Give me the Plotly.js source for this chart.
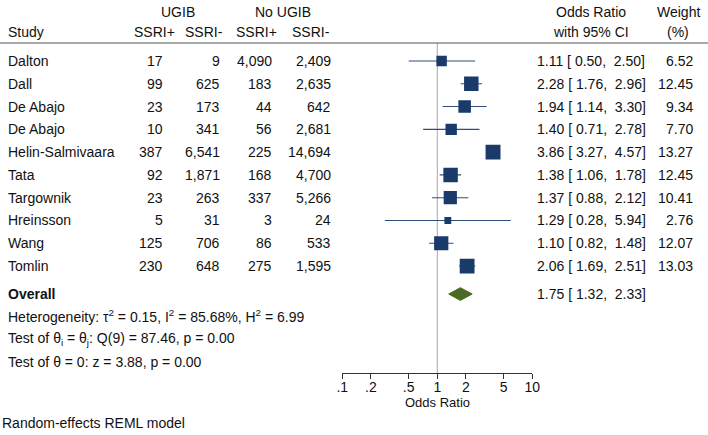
<!DOCTYPE html>
<html>
<head>
<meta charset="utf-8">
<script src="https://cdn.plot.ly/plotly-3.0.1.min.js"></script>
<style>html,body{margin:0;padding:0;background:#fff;}#chart{width:708px;height:435px;}</style>
</head>
<body>
<div id="chart"></div>
<script>
// ---- data ----
const studies = ["Dalton","Dall","De Abajo","De Abajo","Helin-Salmivaara","Tata","Targownik","Hreinsson","Wang","Tomlin"];
const ugibSsriPos = [17, 99, 23, 10, 387, 92, 23, 5, 125, 230];
const ugibSsriNeg = [9, 625, 173, 341, 6541, 1871, 263, 31, 706, 648];
const noUgibSsriPos = [4090, 183, 44, 56, 225, 168, 337, 3, 86, 275];
const noUgibSsriNeg = [2409, 2635, 642, 2681, 14694, 4700, 5266, 24, 533, 1595];
const oddsRatio = [1.11, 2.28, 1.94, 1.40, 3.86, 1.38, 1.37, 1.29, 1.10, 2.06];
const ciLower = [0.50, 1.76, 1.14, 0.71, 3.27, 1.06, 0.88, 0.28, 0.82, 1.69];
const ciUpper = [2.50, 2.96, 3.30, 2.78, 4.57, 1.78, 2.12, 5.94, 1.48, 2.51];
const weightPct = [6.52, 12.45, 9.34, 7.70, 13.27, 12.45, 10.41, 2.76, 12.07, 13.03];
const overallOR = 1.75, overallLower = 1.32, overallUpper = 2.33;
const nullValue = 1;
const tickValues = [0.1, 0.2, 0.5, 1, 2, 5, 10];
const tickLabels = [".1", ".2", ".5", "1", "2", "5", "10"];
const heterogeneityText = "Heterogeneity: τ<sup>2</sup> = 0.15, I<sup>2</sup> = 85.68%, H<sup>2</sup> = 6.99";
const testHomText = "Test of θ<sub>i</sub> = θ<sub>j</sub>: Q(9) = 87.46, p = 0.00";
const testZeroText = "Test of θ = 0: z = 3.88, p = 0.00";
const modelText = "Random-effects REML model";

// ---- layout helpers ----
const W = 708, H = 435;
const px = v => v / W;
const rows = studies.map((s, i) => i);
const overallRow = 10.23, hetRow = 11.18, test1Row = 12.2, test2Row = 13.2;
const headRow1 = -2.15, headRow2 = -1.27, ruleRow = -0.79;
const yTop = -2.678, yBottom = 13.696;

const navy = "#1a3a6a";
const txt = "#111";
const FONT = "Liberation Sans, Arial, sans-serif";
const fs = 14;
const nb = "\u00a0";
const f2 = v => v.toFixed(2);
const padNum = v => (v < 10 ? nb : "") + f2(v);
const fmtCI = (e, l, u) => f2(e) + nb + "[" + padNum(l) + "," + nb + padNum(u) + "]";
const fmtInt = v => v.toLocaleString("en-US");

// ---- traces ----
const ciX = [], ciY = [];
rows.forEach(i => { ciX.push(ciLower[i], ciUpper[i], null); ciY.push(i, i, null); });

const traces = [
  { x: [nullValue, nullValue], y: [ruleRow, yBottom], mode: "lines", line: { color: "#a8a8a8", width: 1 }, hoverinfo: "skip" },
  { x: ciX, y: ciY, mode: "lines", line: { color: "#2e4e7a", width: 1.1 }, hoverinfo: "skip", connectgaps: false },
  { x: oddsRatio, y: rows, mode: "markers", hoverinfo: "skip",
    marker: { symbol: "square", color: navy, opacity: 1, size: weightPct.map(w => 4.1 * Math.sqrt(w)), line: { width: 0 } } },
  { x: [overallLower, overallOR, overallUpper, overallOR, overallLower],
    y: [overallRow, overallRow - 0.28, overallRow, overallRow + 0.28, overallRow],
    mode: "lines", fill: "toself", fillcolor: "#4b6b22", line: { color: "#4b6b22", width: 1 }, hoverinfo: "skip" }
];

// ---- annotations ----
const ann = [];
function add(text, x, y, anchor, opts) {
  ann.push(Object.assign({ text: text, x: px(x), xref: "paper", y: y, yref: "y", xanchor: anchor, yanchor: "middle",
    showarrow: false, font: { family: FONT, size: fs, color: txt }, borderpad: 0, borderwidth: 0 }, opts || {}));
}
add("UGIB", 178, headRow1, "center");
add("No UGIB", 283, headRow1, "center");
add("Odds Ratio", 591, headRow1, "center");
add("Weight", 678, headRow1, "center");
add("Study", 8, headRow2, "left");
add("SSRI+", 154, headRow2, "center");
add("SSRI-", 204, headRow2, "center");
add("SSRI+", 256, headRow2, "center");
add("SSRI-", 311, headRow2, "center");
add("with 95% CI", 591, headRow2, "center");
add("(%)", 678, headRow2, "center");
rows.forEach(i => {
  add(studies[i], 8, i, "left");
  add(fmtInt(ugibSsriPos[i]), 163, i, "right");
  add(fmtInt(ugibSsriNeg[i]), 220, i, "right");
  add(fmtInt(noUgibSsriPos[i]), 272, i, "right");
  add(fmtInt(noUgibSsriNeg[i]), 331, i, "right");
  add(fmtCI(oddsRatio[i], ciLower[i], ciUpper[i]), 537, i, "left");
  add(f2(weightPct[i]), 693, i, "right");
});
add("<b>Overall</b>", 8, overallRow, "left");
add(fmtCI(overallOR, overallLower, overallUpper), 537, overallRow, "left");
add(heterogeneityText, 8, hetRow, "left");
add(testHomText, 8, test1Row, "left");
add(testZeroText, 8, test2Row, "left");
ann.push({ text: modelText, x: px(1.5), xref: "paper", y: (H - 423) / H, yref: "paper", xanchor: "left", yanchor: "middle",
  showarrow: false, borderpad: 0, borderwidth: 0, font: { family: FONT, size: fs, color: txt } });
ann.push({ text: "Odds Ratio", x: px(437.3), xref: "paper", y: (H - 402) / H, yref: "paper", xanchor: "center", yanchor: "middle",
  showarrow: false, font: { family: FONT, size: fs - 1, color: txt } });

const layout = {
  width: W, height: H, margin: { l: 0, r: 0, t: 0, b: 0 },
  paper_bgcolor: "#fff", plot_bgcolor: "#fff", showlegend: false,
  font: { family: FONT, size: fs, color: txt },
  xaxis: {
    type: "log", range: [Math.log10(tickValues[0]), Math.log10(tickValues[tickValues.length - 1])],
    domain: [px(342.3), px(532.3)], tickvals: tickValues, ticktext: tickLabels,
    ticks: "outside", ticklen: 5, tickcolor: "#333", tickwidth: 1,
    showline: true, linecolor: "#333", linewidth: 1, showgrid: false, zeroline: false,
    tickfont: { family: FONT, size: fs, color: txt }, ticklabelstandoff: -4
  },
  yaxis: { range: [yBottom, yTop], domain: [(H - 373) / H, 1], visible: false, showgrid: false, zeroline: false },
  shapes: [{ type: "line", xref: "paper", x0: 0, x1: 1, yref: "y", y0: ruleRow, y1: ruleRow, line: { color: "#555", width: 1 } }],
  annotations: ann
};

Plotly.newPlot("chart", traces, layout, { staticPlot: true, displayModeBar: false });
</script>
</body>
</html>
